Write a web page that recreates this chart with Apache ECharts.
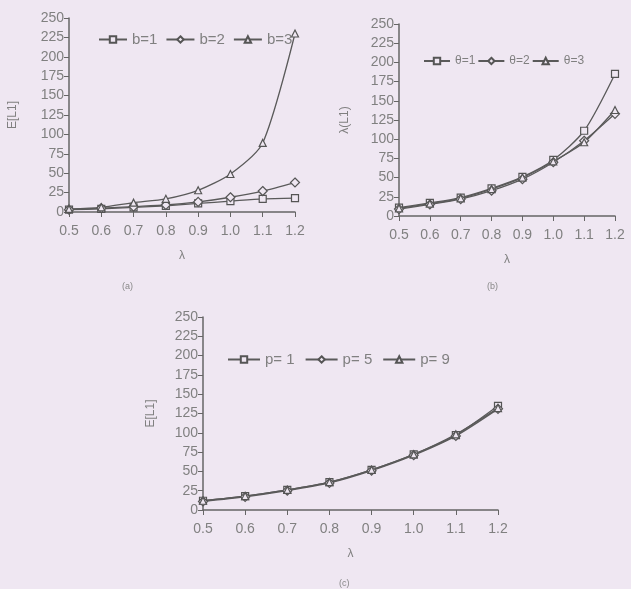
<!DOCTYPE html>
<html><head><meta charset="utf-8">
<script src="https://cdn.jsdelivr.net/npm/echarts@6/dist/echarts.min.js"></script>
<style>html,body{margin:0;padding:0;background:#efe7f2}#c{width:631px;height:589px}</style>
</head><body><div id="c"></div>
<script>
const lambdas = ["0.5","0.6","0.7","0.8","0.9","1.0","1.1","1.2"];
const yTicks = [0,25,50,75,100,125,150,175,200,225,250];
// panel (a)
const aNames = ["b=1","b=2","b=3"];
const aB1 = [3, 4, 6, 8, 11, 14, 17, 18];
const aB2 = [3, 5, 7, 9, 13, 19, 27, 38];
const aB3 = [4, 6, 12, 17, 28, 49, 89, 230];
// panel (b)
const bNames = ["θ=1","θ=2","θ=3"];
const bT1 = [11, 17, 24, 36, 51, 73, 111, 185];
const bT2 = [9, 15, 22, 33, 48, 70, 98, 133];
const bT3 = [10, 16, 23, 35, 50, 71, 96, 138];
// panel (c)
const cNames = ["p= 1","p= 5","p= 9"];
const cP1 = [12, 18, 26, 36, 52, 72, 97, 135];
const cP5 = [11, 17, 25, 35, 51, 71, 96, 131];
const cP9 = [12, 18, 26, 36, 52, 72, 98, 132];

const axisColor = '#666';
const textColor = '#808080';
const font = 'Liberation Sans, Arial, sans-serif';
const symbols = ['rect','diamond','triangle'];

function xAx(i){
  return {type:'category', gridIndex:i, data:lambdas, boundaryGap:false,
    name:'λ', nameLocation:'middle', nameGap:38,
    nameTextStyle:{color:textColor,fontSize:12,fontFamily:font},
    axisLine:{lineStyle:{color:axisColor,width:1.5}},
    axisTick:{show:true,length:5,lineStyle:{color:axisColor}},
    axisLabel:{color:textColor,fontSize:14,fontFamily:font,margin:12,interval:0},
    splitLine:{show:false}};
}
function yAx(i,name,gap){
  return {type:'value', gridIndex:i, min:yTicks[0], max:yTicks[yTicks.length-1], interval:yTicks[1]-yTicks[0],
    name:name, nameLocation:'middle', nameGap:gap, nameRotate:90,
    nameTextStyle:{color:textColor,fontSize:12,fontFamily:font},
    axisLine:{show:true,lineStyle:{color:axisColor,width:1.5}},
    axisTick:{show:true,length:5,lineStyle:{color:axisColor}},
    axisLabel:{color:textColor,fontSize:14,fontFamily:font,margin:5},
    splitLine:{show:false}};
}
function ser(name,data,i,k){
  return {name:name,type:'line',xAxisIndex:i,yAxisIndex:i,data:data,smooth:0.25,
    symbol:symbols[k],symbolSize:k===1?9:7,showSymbol:true,
    itemStyle:{color:'#efe7f2',borderColor:'#555',borderWidth:1.2},
    lineStyle:{color:'#5a5a5a',width:1.3}};
}
function leg(names,left,top,fs,gap,iw){
  return {data:names,left:left,top:top,itemWidth:iw,itemHeight:8,itemGap:gap,
    textStyle:{color:textColor,fontSize:fs,fontFamily:font}};
}

const chart = echarts.init(document.getElementById('c'));
chart.setOption({
  backgroundColor:'#efe7f2',
  animation:false,
  title:[
    {text:'(a)',left:117,top:277,textStyle:{color:'#888',fontSize:9,fontWeight:'normal'}},
    {text:'(b)',left:482,top:277,textStyle:{color:'#888',fontSize:9,fontWeight:'normal'}},
    {text:'(c)',left:334,top:574,textStyle:{color:'#888',fontSize:9,fontWeight:'normal'}}
  ],
  grid:[
    {left:69,top:18,width:226,height:194},
    {left:399,top:24,width:216,height:192},
    {left:203,top:317,width:295,height:193}
  ],
  legend:[
    leg(aNames,93,27,15,8,28),
    leg(bNames,418,50,12,2,26),
    leg(cNames,222,347,15,10,32)
  ],
  xAxis:[xAx(0),xAx(1),xAx(2)],
  yAxis:[yAx(0,'E[L1]',50),yAx(1,'λ(L1)',48),yAx(2,'E[L1]',46)],
  series:[
    ser(aNames[0],aB1,0,0),ser(aNames[1],aB2,0,1),ser(aNames[2],aB3,0,2),
    ser(bNames[0],bT1,1,0),ser(bNames[1],bT2,1,1),ser(bNames[2],bT3,1,2),
    ser(cNames[0],cP1,2,0),ser(cNames[1],cP5,2,1),ser(cNames[2],cP9,2,2)
  ]
});
</script></body></html>
